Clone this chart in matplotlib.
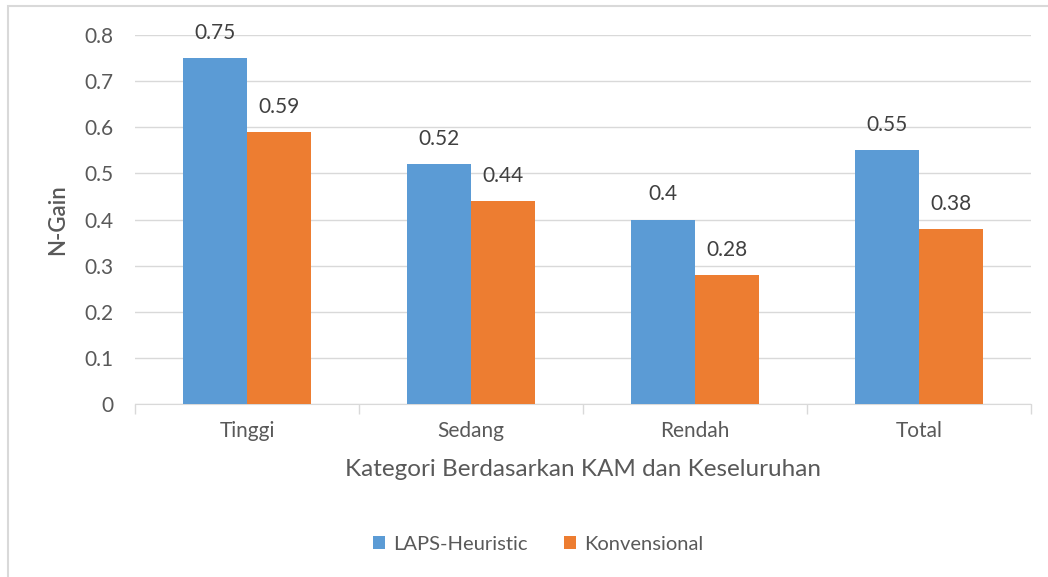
import matplotlib
matplotlib.use("Agg")
import matplotlib.pyplot as plt
import numpy as np
from matplotlib.patches import Rectangle

categories = ["Tinggi", "Sedang", "Rendah", "Total"]
laps = [0.75, 0.52, 0.40, 0.55]
konv = [0.59, 0.44, 0.28, 0.38]
laps_labels = ["0.75", "0.52", "0.4", "0.55"]
konv_labels = ["0.59", "0.44", "0.28", "0.38"]
yticks = [0, 0.1, 0.2, 0.3, 0.4, 0.5, 0.6, 0.7, 0.8]
ytick_labels = ["0", "0.1", "0.2", "0.3", "0.4", "0.5", "0.6", "0.7", "0.8"]

plt.rcParams['font.family'] = ['Lato', 'DejaVu Sans']
txt = '#595959'
grid = '#d9d9d9'
blue = '#5b9bd5'
orange = '#ed7d31'

W, H = 1048, 577
fig = plt.figure(figsize=(W/100, H/100), dpi=100)
fig.patches.append(Rectangle((8/W, -0.1), 1.2, 1 - 6/H + 0.1, transform=fig.transFigure,
                             fill=False, edgecolor=grid, linewidth=1.5))

ax = fig.add_axes([135/W, 1-404/H, (1031-135)/W, (404-35)/H])
x = np.arange(len(categories))
bw = 64/224
ax.bar(x - bw/2, laps, bw, color=blue, label='LAPS-Heuristic', zorder=3)
ax.bar(x + bw/2, konv, bw, color=orange, label='Konvensional', zorder=3)

for xi, v, s in zip(x, laps, laps_labels):
    ax.annotate(s, (xi - bw/2, v), xytext=(0, 18), textcoords='offset points',
                ha='center', va='center', fontsize=15, color='#404040')
for xi, v, s in zip(x, konv, konv_labels):
    ax.annotate(s, (xi + bw/2, v), xytext=(0, 18), textcoords='offset points',
                ha='center', va='center', fontsize=15, color='#404040')

ax.set_xlim(-0.5, len(categories) - 0.5)
ax.set_ylim(0, 0.8)
ax.set_yticks(yticks)
ax.set_yticklabels(ytick_labels, fontsize=15, color=txt)
ax.yaxis.grid(True, color=grid, linewidth=1, zorder=0)
ax.tick_params(axis='y', length=0, pad=15.5)
ax.set_xticks(x)
ax.set_xticklabels(categories, fontsize=15, color=txt)
ax.set_xticks(np.arange(-0.5, len(categories)), minor=True)
ax.tick_params(axis='x', which='major', length=0, pad=12)
ax.tick_params(axis='x', which='minor', length=7, color=grid, width=1)
for sp in ['top', 'right', 'left']:
    ax.spines[sp].set_visible(False)
ax.spines['bottom'].set_color(grid)
ax.set_axisbelow(True)

ax.set_ylabel('N-Gain', fontsize=16, color=txt, fontweight='semibold', labelpad=12)
ax.set_xlabel('Kategori Berdasarkan KAM dan Keseluruhan', fontsize=17.5, color=txt, labelpad=13)

leg = fig.legend(loc='center', bbox_to_anchor=(538/W, 1-544/H), ncol=2, frameon=False,
                 fontsize=14.5, handlelength=0.6, handleheight=0.6, columnspacing=1.8,
                 handletextpad=0.4)
for t in leg.get_texts():
    t.set_color(txt)

fig.savefig('out.png', dpi=100)
